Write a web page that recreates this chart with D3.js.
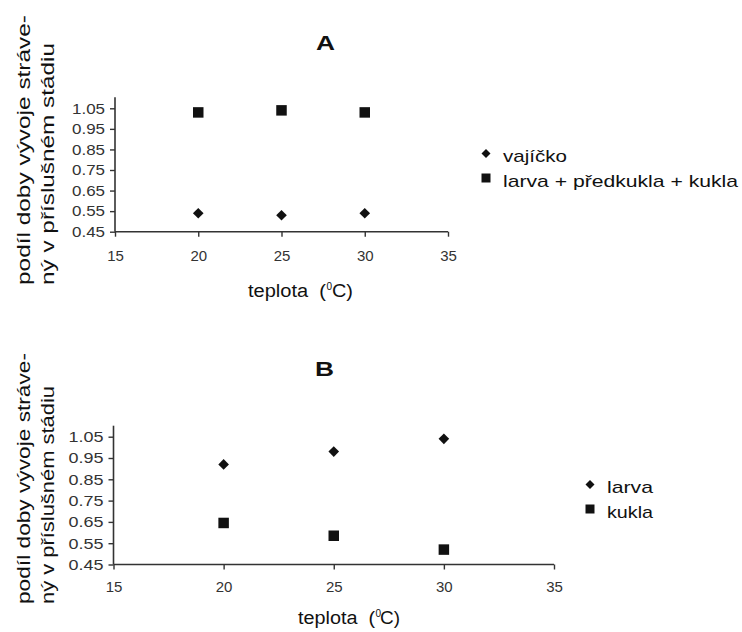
<!DOCTYPE html>
<html>
<head>
<meta charset="utf-8">
<script src="https://cdn.jsdelivr.net/npm/d3@7"></script>
<style>
  body { margin: 0; background: #fff; }
  svg text { font-family: "Liberation Sans", Arial, sans-serif; fill: #111; white-space: pre; }
</style>
</head>
<body>
<div id="chart"></div>
<script>
// data
var temps = [20, 25, 30];
var xTicks = [15, 20, 25, 30, 35];
var yTicks = [0.45, 0.55, 0.65, 0.75, 0.85, 0.95, 1.05];

var eggA = [0.54, 0.53, 0.54];
var restA = [1.03, 1.04, 1.03];
var larvaB = [0.92, 0.98, 1.04];
var pupaB = [0.645, 0.585, 0.52];

var namesA = ["vajíčko", "larva + předkukla + kukla"];
var namesB = ["larva", "kukla"];

var svg = d3.select("#chart").append("svg")
    .attr("width", 742)
    .attr("height", 632);

// the scanned figure is wider than Arial, so stretch text to its measured length
function fit(sel, len) {
  sel.attr("textLength", len).attr("lengthAdjust", "spacingAndGlyphs");
}

function diamondPath(r) {
  return "M0," + (-r) + "L" + r + ",0L0," + r + "L" + (-r) + ",0Z";
}
function squarePath(s) {
  var h = s / 2;
  return "M" + (-h) + "," + (-h) + "h" + s + "v" + s + "h" + (-s) + "Z";
}

function panel(o) {
  var x = d3.scaleLinear().domain([15, 35]).range([o.left, o.right]),
      y = d3.scaleLinear().domain([0.45, 1.05]).range([o.bottom, o.top]);

  var g = svg.append("g");

  // title
  g.append("text")
    .attr("x", o.titleX)
    .attr("y", o.titleY)
    .attr("font-size", "20px")
    .attr("font-weight", "700")
    .text(o.title)
    .call(fit, 19);

  // x axis
  var xa = g.append("g")
    .attr("transform", "translate(0," + o.bottom + ")")
    .style("color", "#333")
    .call(d3.axisBottom(x).tickValues(xTicks).tickSize(5).tickPadding(o.xPad));
  xa.select(".domain").attr("d", "M" + o.left + ",0H" + o.right).attr("stroke-width", 1.6);
  xa.selectAll("line").attr("stroke-width", 1.4);
  xa.selectAll("text").style("font-size", "15px").style("fill", "#333")
    .attr("font-family", "Liberation Sans");

  // y axis
  var ya = g.append("g")
    .attr("transform", "translate(" + o.left + ",0)")
    .style("color", "#333")
    .call(d3.axisLeft(y).tickValues(yTicks).tickFormat(d3.format(".2f")).tickSize(5).tickPadding(5));
  ya.select(".domain").attr("d", "M0," + (o.top - 11) + "V" + o.bottom).attr("stroke-width", 1.6);
  ya.selectAll("line").attr("stroke-width", 1.4);
  ya.selectAll("text").style("font-size", "15px").style("fill", "#333")
    .attr("x", -10).attr("text-anchor", "end")
    .call(fit, o.yTickW);

  // y label, two lines, rotated
  g.append("text")
    .attr("transform", "translate(" + o.yl1x + "," + o.ylBase + ") rotate(-90)")
    .attr("font-size", o.ylSize + "px")
    .text("podíl doby vývoje stráve-")
    .call(fit, o.yl1Len);
  g.append("text")
    .attr("transform", "translate(" + o.yl2x + "," + o.ylBase + ") rotate(-90)")
    .attr("font-size", o.ylSize + "px")
    .text("ný v příslušném stádiu")
    .call(fit, o.yl2Len);

  // x label: "teplota  (" + superscript 0 + "C)"
  var xs = o.xl;
  g.append("text").attr("x", xs[0]).attr("y", o.xlBase).attr("font-size", "18px")
    .text("teplota  (").call(fit, xs[1] - xs[0]);
  g.append("text").attr("x", xs[1] + 0.5).attr("y", o.xlBase - 7).attr("font-size", "10px")
    .text("0");
  g.append("text").attr("x", xs[2]).attr("y", o.xlBase).attr("font-size", "18px")
    .text("C)").call(fit, xs[3] - xs[2]);

  // points
  g.selectAll(".dia")
    .data(o.s1)
    .enter().append("path")
      .attr("class", "dia")
      .attr("d", diamondPath(5.3))
      .attr("fill", "#111")
      .attr("transform", function(d, i) { return "translate(" + x(temps[i]) + "," + y(d) + ")"; });

  g.selectAll(".sq")
    .data(o.s2)
    .enter().append("path")
      .attr("class", "sq")
      .attr("d", squarePath(10.5))
      .attr("fill", "#111")
      .attr("transform", function(d, i) { return "translate(" + x(temps[i]) + "," + y(d) + ")"; });

  // legend
  var lg = g.append("g").attr("transform", "translate(" + o.legX + "," + o.legY + ")");
  lg.append("path").attr("d", diamondPath(4.5)).attr("fill", "#111");
  lg.append("path").attr("d", squarePath(9)).attr("fill", "#111").attr("transform", "translate(0,24.5)");
  lg.append("text").attr("x", 17).attr("y", 8.5).attr("font-size", "17px")
    .text(o.names[0]).call(fit, o.legW[0]);
  lg.append("text").attr("x", 17).attr("y", 33).attr("font-size", "17px")
    .text(o.names[1]).call(fit, o.legW[1]);
}

panel({title: "A", titleX: 316, titleY: 50, left: 115, right: 448, top: 108.3, bottom: 231.7,
       xPad: 14, yTickW: 33,
       ylSize: 19, yl1x: 30, yl2x: 54, ylBase: 285, yl1Len: 270, yl2Len: 242,
       xl: [248, 326, 332, 353], xlBase: 297,
       s1: eggA, s2: restA, names: namesA, legX: 486, legY: 153.5, legW: [64, 235]});
panel({title: "B", titleX: 315, titleY: 376, left: 113.5, right: 554, top: 436.7, bottom: 564.5,
       xPad: 12, yTickW: 35,
       ylSize: 18, yl1x: 30, yl2x: 54, ylBase: 604, yl1Len: 251, yl2Len: 218,
       xl: [298, 375, 380, 400], xlBase: 624,
       s1: larvaB, s2: pupaB, names: namesB, legX: 590, legY: 484.5, legW: [46, 46]});
</script>
</body>
</html>
